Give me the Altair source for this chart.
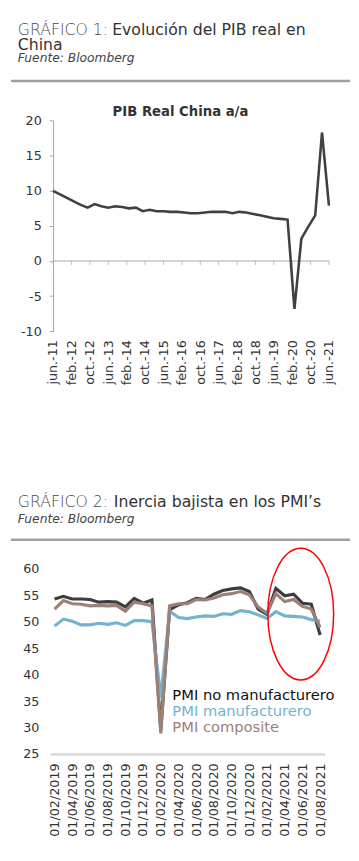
import altair as alt
import pandas as pd

FONT = "DejaVu Sans"
W, H = 350, 838

# ---------------- Gráfico 1: PIB real China a/a (trimestral) ----------------
pib_fechas = pd.date_range("2011-06-01", periods=41, freq="3MS").strftime("%Y/%m/%d").tolist()
pib_valores = [10.0, 9.5, 9.0, 8.5, 8.0, 7.6, 8.1, 7.8, 7.6, 7.8,
               7.7, 7.5, 7.6, 7.1, 7.3, 7.1, 7.1, 7.0, 7.0, 6.9,
               6.8, 6.8, 6.9, 7.0, 7.0, 7.0, 6.8, 7.0, 6.9, 6.7,
               6.5, 6.3, 6.1, 6.0, 5.9, -6.8, 3.2, 4.9, 6.5, 18.3,
               7.9]
pib_etiquetas = pd.date_range("2011-06-01", "2021-06-01", freq="8MS")
pib_ticks_y = [-10, -5, 0, 5, 10, 15, 20]

# ---------------- Gráfico 2: PMI (mensual) ----------------
pmi_fechas = pd.date_range("2019-02-01", periods=31, freq="MS").strftime("%d/%m/%Y").tolist()
pmi_no_manuf = [54.3, 54.8, 54.3, 54.3, 54.2, 53.7, 53.8, 53.7, 52.8, 54.4, 53.5,
                54.1, 29.6, 52.3, 53.2, 53.6, 54.4, 54.2, 55.2, 55.9, 56.2, 56.4, 55.7,
                52.4, 51.4, 56.3, 54.9, 55.2, 53.5, 53.3, 47.5]
pmi_manuf = [49.2, 50.5, 50.1, 49.4, 49.4, 49.7, 49.5, 49.8, 49.3, 50.2, 50.2,
             50.0, 35.7, 52.0, 50.8, 50.6, 50.9, 51.1, 51.0, 51.5, 51.4, 52.1, 51.9,
             51.3, 50.6, 51.9, 51.1, 51.0, 50.9, 50.4, 50.1]
pmi_composite = [52.4, 54.0, 53.4, 53.3, 53.0, 53.1, 53.0, 53.1, 52.0, 53.7, 53.4,
                 53.0, 28.9, 53.0, 53.4, 53.4, 54.2, 54.1, 54.5, 55.1, 55.3, 55.7, 55.1,
                 52.8, 51.6, 55.3, 53.8, 54.2, 52.9, 52.4, 48.9]
pmi_ticks_y = [25, 30, 35, 40, 45, 50, 55, 60]

series = ["PMI no manufacturero", "PMI manufacturero", "PMI composite"]
colores_linea = ["#3d3d3d", "#74b3ce", "#9c8078"]
colores_texto = ["#111111", "#74b3ce", "#9c8078"]

# ---------------- tablas ----------------
df_pib = pd.DataFrame({"fecha": pib_fechas, "pib": pib_valores})
df_ticks = pd.DataFrame({"fecha": pib_etiquetas.strftime("%Y/%m/%d"), "pib": 0})
df_cero = pd.DataFrame({"fecha": [pib_fechas[0]], "fin": [pib_fechas[-1]], "pib": [0]})

df_pmi = pd.concat([
    pd.DataFrame({"fecha": pmi_fechas, "serie": s, "valor": v})
    for s, v in zip(series, [pmi_no_manuf, pmi_manuf, pmi_composite])
])

# ---------------- Panel 1 ----------------
y1_bottom, y1_top = 321.3, 106.3
x1_scale = alt.Scale(range=[46, 327.5], nice=False)
y1_scale = alt.Scale(domain=[-10, 20], range=[y1_bottom, y1_top], nice=False, zero=False)

mes_expr = ("['ene.','feb.','mar.','abr.','may.','jun.','jul.','ago.','sep.','oct.','nov.','dic.']"
            "[month(datum.value)] + '-' + timeFormat(datum.value, '%y')")

x1_axis = alt.Axis(orient="bottom", offset=y1_bottom - H,
                   values=[alt.DateTime(year=d.year, month=d.month, date=1) for d in pib_etiquetas],
                   labelExpr=mes_expr, labelAngle=270, labelAlign="right",
                   labelBaseline="middle", labelPadding=8.5, domain=False,
                   ticks=False, grid=False, title=None)
y1_axis = alt.Axis(orient="left", offset=-46, values=pib_ticks_y,
                   labelExpr="'' + datum.value", grid=False, domain=True,
                   domainColor="#a6a6a6", ticks=True, tickColor="#a6a6a6",
                   tickSize=4, labelPadding=8, title=None)

x1 = alt.X("fecha:T", scale=x1_scale, axis=x1_axis)
y1 = alt.Y("pib:Q", scale=y1_scale, axis=y1_axis)

linea_pib = alt.Chart(df_pib).mark_line(color="#404040", strokeWidth=2.6).encode(x=x1, y=y1)
linea_cero = alt.Chart(df_cero).mark_rule(color="#a6a6a6", strokeWidth=1).encode(
    x=x1, x2="fin:T", y=y1)
marcas_cero = alt.Chart(df_ticks).mark_tick(orient="vertical", size=4, thickness=1,
                                              color="#a6a6a6", yOffset=2).encode(x=x1, y=y1)

panel1 = alt.layer(linea_cero, marcas_cero, linea_pib)

# ---------------- Panel 2 ----------------
y2_bottom, y2_top = 752.7, 563.7
x2_scale = alt.Scale(type="point", padding=0.5, range=[43, 323])
y2_scale = alt.Scale(domain=[25, 60], range=[y2_bottom, y2_top], nice=False, zero=False)

x2_axis = alt.Axis(orient="bottom", offset=y2_bottom - H, values=pmi_fechas[::2],
                   labelAngle=270, labelAlign="right", labelBaseline="middle",
                   domain=True, domainColor="#d9d9d9", domainWidth=2.5,
                   ticks=False, labelPadding=9, grid=False, title=None)
y2_axis = alt.Axis(orient="left", offset=-43, values=pmi_ticks_y, domain=False,
                   ticks=False, labelPadding=11.5, grid=False, title=None)

capas2 = []
for s, c in zip(series, colores_linea):
    capas2.append(
        alt.Chart(df_pmi[df_pmi["serie"] == s]).mark_line(color=c, strokeWidth=3.2).encode(
            x=alt.X("fecha:O", sort=pmi_fechas, scale=x2_scale, axis=x2_axis),
            y=alt.Y("valor:Q", scale=y2_scale, axis=y2_axis),
        )
    )
panel2 = alt.layer(*capas2)


# ---------------- textos ----------------
def texto(t, x, y, size, color, weight="normal", style="normal", align="left"):
    return alt.Chart(pd.DataFrame({"t": [t]})).mark_text(
        font=FONT, fontSize=size, color=color, fontWeight=weight, fontStyle=style,
        align=align, baseline="alphabetic"
    ).encode(text="t:N", x=alt.value(x), y=alt.value(y))


def separador(y):
    return alt.Chart(pd.DataFrame({"s": [0]})).mark_rule(color="#a0a0a0", strokeWidth=2.5).encode(
        x=alt.value(3), x2=alt.value(349), y=alt.value(y))


textos = [
    texto("GRÁFICO 1:", 10, 19.3, 16, "#4a4a4a", weight=300),
    texto("Evolución del PIB real en", 106.3, 19.3, 16, "#333333"),
    texto("China", 10, 34.3, 16, "#333333"),
    texto("Fuente: Bloomberg", 10, 46.3, 12.5, "#444444", style="italic"),
    separador(66),
    texto("PIB Real China a/a", 176, 101.3, 13.5, "#333333", weight="bold", align="center"),
    texto("GRÁFICO 2:", 10, 500.3, 16, "#4a4a4a", weight=300),
    texto("Inercia bajista en los PMI’s", 108, 500.3, 16, "#333333"),
    texto("Fuente: Bloomberg", 10, 516.6, 12.5, "#444444", style="italic"),
    separador(534),
]
leyenda = [
    texto(series[0], 167.7, 697.7, 15, colores_texto[0]),
    texto(series[1], 167.7, 714.0, 15, colores_texto[1]),
    texto(series[2], 167.7, 730.3, 15, colores_texto[2]),
]

ELIPSE = "M0,-1 A0.5,1 0 0,1 0,1 A0.5,1 0 0,1 0,-1 Z"
elipse = alt.Chart(pd.DataFrame({"e": [0]})).mark_point(
    shape=ELIPSE, size=18063, filled=False, stroke="#ff0000", strokeWidth=1.5, opacity=1
).encode(x=alt.value(298.7), y=alt.value(609.9))

chart = alt.layer(panel1, panel2, *textos, *leyenda, elipse).resolve_scale(
    x="independent", y="independent"
).properties(
    width=W, height=H, autosize=alt.AutoSizeParams(type="none"), padding=0
).configure_view(stroke=None).configure_axis(
    labelFont=FONT, labelFontSize=13, labelColor="#333333"
)

chart.save("out.html", embed_options={"renderer": "svg", "actions": False})
